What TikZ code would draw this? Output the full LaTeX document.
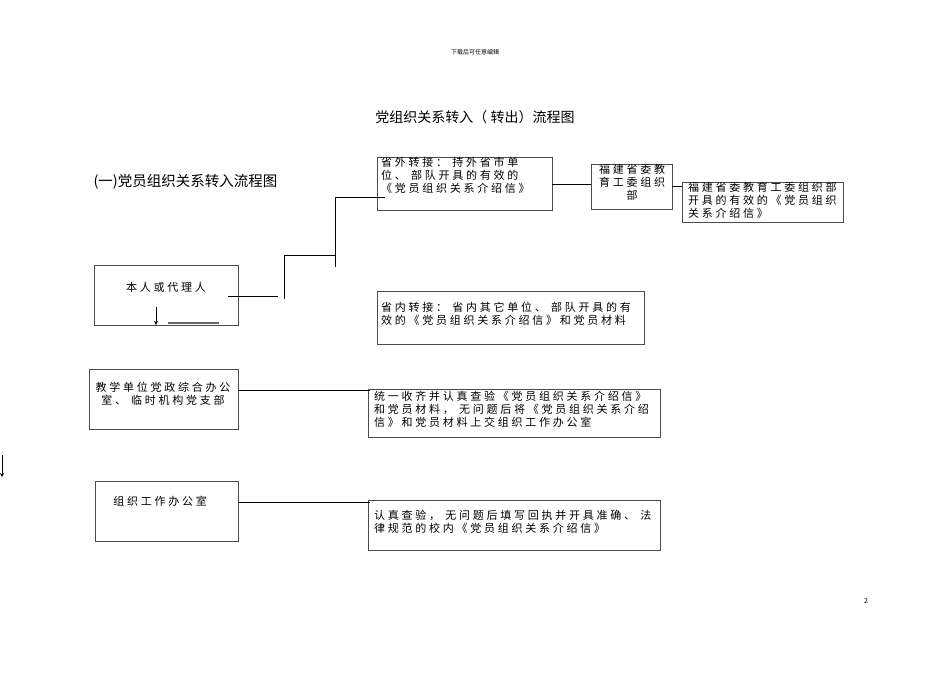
\documentclass[tikz,border=0pt]{standalone}
\usepackage{fontspec}
\setmainfont{Noto Sans CJK SC}
\newfontfamily\spcfont[LetterSpace=25]{Noto Sans CJK SC}
\begin{document}
\begin{tikzpicture}[x=1pt,y=-1pt,
  bx/.style={draw=black!70,line width=0.7pt},
  tx/.style={font=\spcfont\fontsize{11}{13}\selectfont,align=left,inner sep=0pt,anchor=north west},
  ln/.style={line width=0.8pt}]
\useasboundingbox (0,0) rectangle (950,672);
\node[font=\fontsize{6}{7}\selectfont] (hdr) at (475,52) {下载后可任意编辑};
\node[font=\fontsize{14}{16}\selectfont] (title) at (475,117) {党组织关系转入（ 转出）流程图};
\node[font=\fontsize{14.5}{16}\selectfont,anchor=west] (sub) at (90,182) {(一)党员组织关系转入流程图};
\node[font=\fontsize{7}{8}\selectfont] (pg) at (866,601) {2};
% boxes
\draw[bx] (377,157) rectangle (552,210); \node[tx] (t1) at (381,157) {省外转接： 持外省市单\\位、 部队开具的有效的\\《党员组织关系介绍信》};
\draw[bx] (591,164) rectangle (672,209); \node[tx,anchor=north,align=center] (t2) at (632,164) {福建省委教\\育工委组织\\部};
\draw[bx] (682,182) rectangle (843,222); \node[tx] (t3) at (688,182) {福建省委教育工委组织部\\开具的有效的《党员组织\\关系介绍信》};
\draw[bx] (94,265) rectangle (238,325); \node[tx,anchor=center] (t4) at (166,287) {本人或代理人};
\draw[bx] (377,291) rectangle (644,344); \node[tx] (t5) at (381,302) {省内转接： 省内其它单位、 部队开具的有\\效的《党员组织关系介绍信》和党员材料};
\draw[bx] (89,369) rectangle (238,429); \node[tx,anchor=center,align=center] (t6) at (163,394) {教学单位党政综合办公\\室、 临时机构党支部};
\draw[bx] (368,389) rectangle (660,437); \node[tx] (t7) at (374,391) {统一收齐并认真查验《党员组织关系介绍信》\\和党员材料， 无问题后将《党员组织关系介绍\\信》和党员材料上交组织工作办公室};
\draw[bx] (95,481) rectangle (238,541); \node[tx,anchor=center] (t8) at (160,501) {组织工作办公室};
\draw[bx] (368,500) rectangle (660,550); \node[tx] (t9) at (374,510) {认真查验， 无问题后填写回执并开具准确、 法\\律规范的校内《党员组织关系介绍信》};
% connectors
\draw[ln] (228,296) -- (278,296);
\draw[ln] (284,299) -- (284,255) -- (335,255);
\draw[ln] (335,267) -- (335,197) -- (385,197);
\draw[ln] (552,184) -- (591,184);
\draw[ln] (672,186) -- (682,186);
\draw[ln,-stealth] (156,307) -- (156,325);
\draw[line width=1.2pt,black!60] (168,323) -- (219,323);
\draw[ln] (238,390) -- (370,390);
\draw[ln] (238,502) -- (370,502);
\draw[ln,-stealth] (2,455) -- (2,477);
\end{tikzpicture}
\end{document}
